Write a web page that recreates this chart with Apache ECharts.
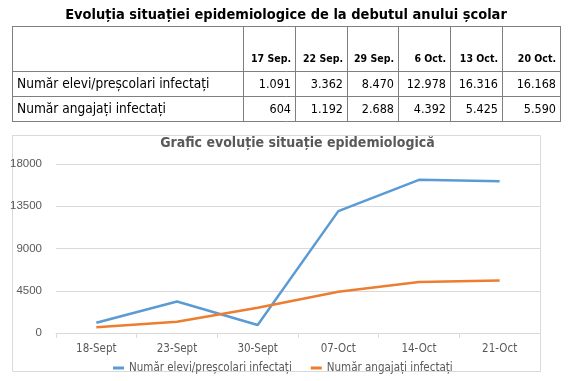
<!DOCTYPE html>
<html><head><meta charset="utf-8">
<script src="https://cdn.jsdelivr.net/npm/echarts@6/dist/echarts.min.js"></script>
<style>html,body{margin:0;padding:0;background:#fff}#c{width:572px;height:381px}</style>
</head><body><div id="c"></div>
<script>
// ---- data ----
const pageTitle = 'Evoluția situației epidemiologice de la debutul anului școlar';
const chartTitle = 'Grafic evoluție situație epidemiologică';
const tableDates = ['17 Sep.', '22 Sep.', '29 Sep.', '6 Oct.', '13 Oct.', '20 Oct.'];
const rowLabels = ['Număr elevi/preșcolari infectați', 'Număr angajați infectați'];
const tableElevi = ['1.091', '3.362', '8.470', '12.978', '16.316', '16.168'];
const tableAngajati = ['604', '1.192', '2.688', '4.392', '5.425', '5.590'];
const categories = ['18-Sept', '23-Sept', '30-Sept', '07-Oct', '14-Oct', '21-Oct'];
const seriesNames = ['Număr elevi/preșcolari infectați', 'Număr angajați infectați'];
const elevi = [1091, 3362, 847, 12978, 16316, 16168];
const angajati = [604, 1192, 2688, 4392, 5425, 5590];
const yMin = 0, yMax = 18000, yStep = 4500;

// ---- layout / style ----
const FONT = 'DejaVu Sans Condensed, DejaVu Sans, sans-serif';
const colX = [12, 243, 295, 347, 398, 450, 502, 560];
const rowY = [26, 71, 96, 121];
const tableLine = '#7f7f7f';
const graphics = [];
rowY.forEach(y => graphics.push({type:'line', shape:{x1:colX[0], y1:y+0.5, x2:colX[colX.length-1]+1, y2:y+0.5}, style:{stroke:tableLine, lineWidth:1}, silent:true}));
colX.forEach(x => graphics.push({type:'line', shape:{x1:x+0.5, y1:rowY[0], x2:x+0.5, y2:rowY[rowY.length-1]+1}, style:{stroke:tableLine, lineWidth:1}, silent:true}));
tableDates.forEach((d, i) => graphics.push({type:'text', x: colX[i+2]-4, y: 65, style:{text:d, fill:'#000', font:'bold 10.5px ' + FONT, align:'right', verticalAlign:'bottom'}, silent:true}));
const rowsVals = [tableElevi, tableAngajati];
rowLabels.forEach((lab, r) => {
  const cy = (rowY[r+1] + rowY[r+2]) / 2 + 1;
  graphics.push({type:'text', x: colX[0]+5, y: cy, style:{text:lab, fill:'#000', font:'13.6px ' + FONT, align:'left', verticalAlign:'middle'}, silent:true});
  rowsVals[r].forEach((v, i) => graphics.push({type:'text', x: colX[i+2]-4, y: cy, style:{text:v, fill:'#000', font:'12.5px ' + FONT, align:'right', verticalAlign:'middle'}, silent:true}));
});
graphics.push({type:'rect', shape:{x:12.5, y:135.5, width:528, height:236}, style:{fill:'none', stroke:'#d9d9d9', lineWidth:1}, silent:true, z:-1});
graphics.push({type:'text', x: 297.5, y: 143, style:{text: chartTitle, fill:'#595959', font:'bold 14px ' + FONT, align:'center', verticalAlign:'middle'}, silent:true});

const chart = echarts.init(document.getElementById('c'));
chart.setOption({
  animation: false,
  textStyle: {fontFamily: FONT},
  title: [
    {text: pageTitle, left: 'center', top: 3, textStyle:{fontFamily: FONT, fontWeight:'bold', fontSize:14.5, color:'#000'}}
  ],
  legend: {
    left: 108, top: 357, icon: 'rect', itemWidth: 11, itemHeight: 3, itemGap: 19,
    textStyle: {fontFamily: FONT, fontSize: 11.5, color:'#595959'},
    data: seriesNames
  },
  grid: {left: 56, right: 32, top: 164, bottom: 48, containLabel: false},
  xAxis: {
    type: 'category', data: categories, boundaryGap: true,
    axisLine: {lineStyle:{color:'#d9d9d9'}},
    axisTick: {show:true, length:5, lineStyle:{color:'#d9d9d9'}},
    axisLabel: {color:'#595959', fontSize: 11.5, margin: 10, fontFamily: FONT}
  },
  yAxis: {
    type: 'value', min: yMin, max: yMax, interval: yStep,
    axisLine: {show:false}, axisTick: {show:false},
    axisLabel: {color:'#595959', fontSize: 11.5, margin: 14, fontFamily: 'Liberation Sans, Arial, sans-serif', formatter: v => String(v)},
    splitLine: {lineStyle:{color:'#d9d9d9'}}
  },
  series: [
    {name: seriesNames[0], type:'line', data: elevi, showSymbol:false, symbol:'none', lineStyle:{width:2.5, color:'#5b9bd5'}, itemStyle:{color:'#5b9bd5'}},
    {name: seriesNames[1], type:'line', data: angajati, showSymbol:false, symbol:'none', lineStyle:{width:2.5, color:'#ed7d31'}, itemStyle:{color:'#ed7d31'}}
  ],
  graphic: graphics
});
</script>
</body></html>
